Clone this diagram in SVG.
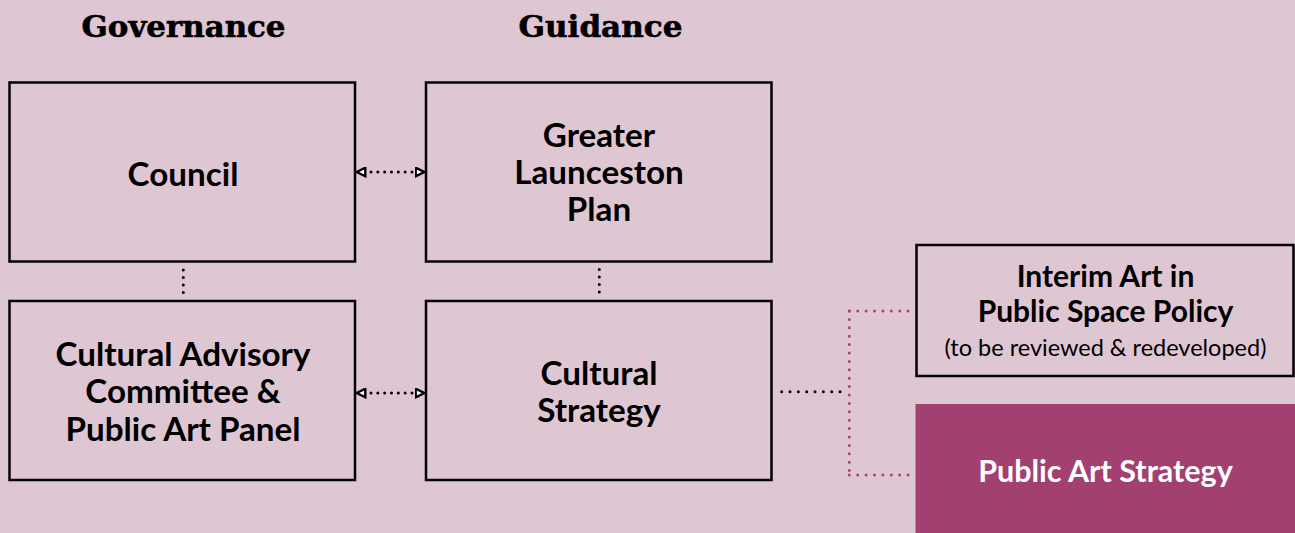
<svg xmlns="http://www.w3.org/2000/svg" width="1295" height="533" viewBox="0 0 1295 533">
  <style>
    .box { fill: none; stroke: #000; stroke-width: 2.5; }
    .t { font-family: Lato, "Open Sans", "Liberation Sans", sans-serif; font-weight: bold; font-size: 33.2px; fill: #000; text-anchor: middle; }
    .ti { font-family: Lato, "Open Sans", "Liberation Sans", sans-serif; font-weight: bold; font-size: 30px; fill: #000; text-anchor: middle; }
    .ts { font-family: Lato, "Open Sans", "Liberation Sans", sans-serif; font-weight: normal; font-size: 23.5px; fill: #000; text-anchor: middle; }
    .h { font-family: "DejaVu Serif", "Liberation Serif", serif; font-weight: 900; font-size: 29px; fill: #000; stroke: #000; stroke-width: 0.6; text-anchor: middle; }
    .dot { fill: none; stroke: #000; stroke-width: 3; stroke-linecap: round; }
    .mdot { fill: none; stroke: #A5467A; stroke-width: 3; stroke-linecap: round; }
  </style>
  <defs>
    <marker id="tri" viewBox="0 0 11 11" refX="10" refY="5.5" markerWidth="11" markerHeight="11" markerUnits="userSpaceOnUse" orient="auto-start-reverse">
      <path d="M1.2,1.2 L9.8,5.5 L1.2,9.8 Z" fill="#fff" stroke="#000" stroke-width="2.4" stroke-linejoin="miter"/>
    </marker>
  </defs>
  <rect width="1295" height="533" fill="#DFC6D3"/>

  <g id="headings">
    <text class="h" x="183.5" y="37" textLength="204" lengthAdjust="spacingAndGlyphs">Governance</text>
    <text class="h" x="600.5" y="37" textLength="164" lengthAdjust="spacingAndGlyphs">Guidance</text>
  </g>

  <g id="connectors">
    <line class="dot" x1="371" y1="172" x2="412.5" y2="172" stroke-dasharray="0 6.83"/>
    <line x1="356.5" y1="172" x2="424.5" y2="172" stroke="none" marker-start="url(#tri)" marker-end="url(#tri)"/>
    <line class="dot" x1="371" y1="393" x2="412.5" y2="393" stroke-dasharray="0 6.83"/>
    <line x1="356.5" y1="393" x2="424.5" y2="393" stroke="none" marker-start="url(#tri)" marker-end="url(#tri)"/>
    <line class="dot" x1="183.3" y1="270" x2="183.3" y2="293" stroke-dasharray="0 7.5"/>
    <line class="dot" x1="599.3" y1="269.5" x2="599.3" y2="292.5" stroke-dasharray="0 7.5"/>
    <line class="dot" x1="781.7" y1="391.7" x2="840.5" y2="391.7" stroke-dasharray="0 8.33"/>
    <line class="mdot" x1="849.3" y1="311" x2="849.3" y2="475.5" stroke-dasharray="0 8.4"/>
    <line class="mdot" x1="849.3" y1="311" x2="908.5" y2="311" stroke-dasharray="0 8.4"/>
    <line class="mdot" x1="849.3" y1="475" x2="908.5" y2="475" stroke-dasharray="0 8.4"/>
  </g>

  <g id="council">
    <rect class="box" x="9.5" y="82.5" width="345.5" height="179"/>
    <text class="t" x="183" y="185.5">Council</text>
  </g>

  <g id="greater-launceston-plan">
    <rect class="box" x="426" y="82.5" width="345.5" height="179"/>
    <text class="t" x="599" y="147">Greater</text>
    <text class="t" x="599" y="184">Launceston</text>
    <text class="t" x="599" y="221">Plan</text>
  </g>

  <g id="cultural-advisory">
    <rect class="box" x="9.5" y="301" width="345.5" height="179"/>
    <text class="t" x="183" y="365.5">Cultural Advisory</text>
    <text class="t" x="183" y="403">Committee &amp;</text>
    <text class="t" x="183" y="440.5">Public Art Panel</text>
  </g>

  <g id="cultural-strategy">
    <rect class="box" x="426" y="301" width="345.5" height="179"/>
    <text class="t" x="599" y="385">Cultural</text>
    <text class="t" x="599" y="422">Strategy</text>
  </g>

  <g id="interim-policy">
    <rect class="box" x="916.5" y="245" width="377" height="131"/>
    <text class="ti" x="1105.5" y="286.5">Interim Art in</text>
    <text class="ti" x="1105.5" y="322">Public Space Policy</text>
    <text class="ts" x="1105.5" y="356">(to be reviewed &amp; redeveloped)</text>
  </g>

  <g id="public-art-strategy">
    <rect x="915.5" y="404" width="379.5" height="129" fill="#A24170"/>
    <text class="ti" x="1105.5" y="482" style="fill:#fff;font-size:30.5px">Public Art Strategy</text>
  </g>
</svg>
